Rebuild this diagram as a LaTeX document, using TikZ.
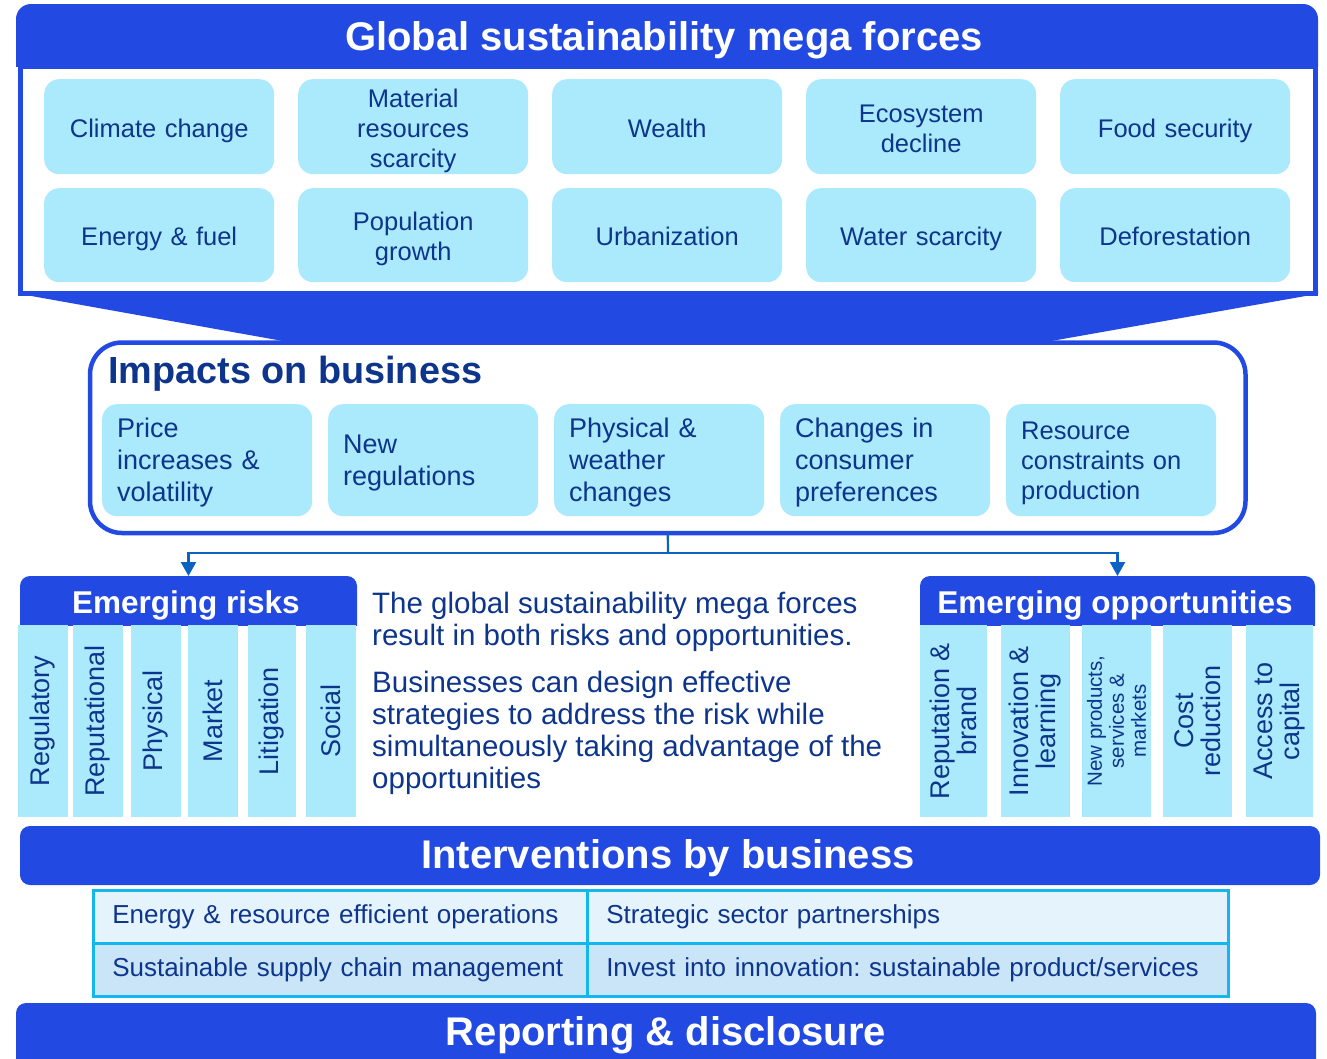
\documentclass[tikz,border=0pt]{standalone}
\usepackage{fontspec}
\setmainfont{Liberation Sans}
\usetikzlibrary{arrows.meta}
\frenchspacing

\definecolor{mainblue}{HTML}{224AE2}
\definecolor{cellcyan}{HTML}{ABE9FC}
\definecolor{navy}{HTML}{0D358C}
\definecolor{linkblue}{HTML}{0A63C2}
\definecolor{gridcyan}{HTML}{14B6EE}
\definecolor{rowlight}{HTML}{E5F3FD}
\definecolor{rowmid}{HTML}{CAE5F8}

\newcommand\fsz[2]{\fontsize{#1}{#2}\selectfont}

\begin{document}
\begin{tikzpicture}[x=1pt,y=-1pt,
  force/.style={fill=cellcyan, rounded corners=15pt, text=navy, align=center,
    text width=220pt, inner xsep=5pt, inner ysep=0pt, anchor=north west,
    font=\fsz{25.5}{30},
    execute at begin node={\rule{0pt}{27pt}},
    execute at end node={\rule[-6pt]{0pt}{6pt}}},
  impact/.style={fill=cellcyan, rounded corners=15pt, text=navy, align=left,
    text width=180pt, inner xsep=15pt, inner ysep=0pt, minimum height=112pt,
    anchor=north west, font=\fsz{27}{32},
    execute at begin node={\rule{0pt}{25pt}},
    execute at end node={\rule[-7pt]{0pt}{7pt}}},
  column/.style={fill=cellcyan, text=navy, rotate=90, inner sep=0pt,
    minimum width=192pt, align=center, font=\fsz{27}{27}},
  bartitle/.style={text=white, font=\bfseries\fsz{40}{44}, inner sep=0pt, anchor=base},
  subtitle/.style={text=white, font=\bfseries\fsz{31.5}{34}, inner sep=0pt, anchor=base},
  hdrbox/.style={inner sep=0pt, outer sep=0pt, anchor=north west},
  note/.style={text=navy, align=left, inner sep=0pt, anchor=base west,
    font=\fsz{29.5}{32}},
  tcell/.style={draw=gridcyan, line width=2.5pt, text=navy, align=left,
    inner xsep=19pt, inner ysep=0pt, minimum height=53pt, anchor=north west,
    font=\fsz{26}{30},
    execute at begin node={\rule[-6pt]{0pt}{25pt}}},
  link/.style={draw=linkblue, line width=2.2pt},
  tip/.style={-{Triangle[width=15pt,length=14pt]}}
]
\useasboundingbox (0,0) rectangle (1327,1058);

% ---------- mega forces panel ----------
\begin{scope}
  \clip (0,0) rectangle (1327,66);
  \fill[mainblue, rounded corners=15pt] (16,4) rectangle (1318,110);
\end{scope}
\draw[mainblue, line width=5pt, fill=white] (20.5,66) rectangle (1315.5,293);
\node[bartitle] (megatitle) at (664,50) {Global sustainability mega forces};

\node[force, minimum height=95pt] (f1)  at (44,79)   {Climate change};
\node[force, minimum height=95pt] (f2)  at (298,79)  {Material\\resources\\scarcity};
\node[force, minimum height=95pt] (f3)  at (552,79)  {Wealth};
\node[force, minimum height=95pt] (f4)  at (806,79)  {Ecosystem\\decline};
\node[force, minimum height=95pt] (f5)  at (1060,79) {Food security};
\node[force, minimum height=94pt] (f6)  at (44,188)  {Energy \& fuel};
\node[force, minimum height=94pt] (f7)  at (298,188) {Population\\growth};
\node[force, minimum height=94pt] (f8)  at (552,188) {Urbanization};
\node[force, minimum height=94pt] (f9)  at (806,188) {Water scarcity};
\node[force, minimum height=94pt] (f10) at (1060,188) {Deforestation};

% funnel into the impacts panel
\fill[mainblue] (18,291) -- (1318,291) -- (1318,293.8) -- (1040,343)
  -- (294,343) -- (18,293.6) -- cycle;

% ---------- impacts on business ----------
\node[draw=mainblue, line width=4.5pt, fill=white, rounded corners=32pt,
  minimum width=1155.5pt, minimum height=190.5pt, inner sep=0pt, outer sep=0pt,
  anchor=north west] (impacts) at (90,342.5) {};
\node[text=navy, font=\bfseries\fsz{37.8}{40}, inner sep=0pt, anchor=base west]
  (imptitle) at (108,383) {Impacts on business};

\node[impact] (i1) at (102,404)  {Price\\increases \&\\volatility};
\node[impact] (i2) at (328,404)  {New\\regulations};
\node[impact] (i3) at (554,404)  {Physical \&\\weather\\changes};
\node[impact] (i4) at (780,404)  {Changes in\\consumer\\preferences};
\node[impact, font=\fsz{25.5}{30}] (i5) at (1006,404) {Resource\\constraints on\\production};

% ---------- emerging risks / opportunities headers ----------
\begin{scope}
  \clip (0,570) rectangle (1327,625);
  \fill[mainblue, rounded corners=10pt] (20,576) rectangle (357,640);
  \fill[mainblue, rounded corners=10pt] (920,576) rectangle (1315,640);
\end{scope}
\node[hdrbox, minimum width=337pt, minimum height=49pt] (riskhdr) at (20,576) {};
\node[hdrbox, minimum width=395pt, minimum height=49pt] (opphdr) at (920,576) {};
\node[subtitle] (risktitle) at (186,613) {Emerging risks};
\node[subtitle] (opptitle) at (1115,613) {Emerging opportunities};

\node[column, minimum height=50pt] (r1) at (43,721)  {Regulatory};
\node[column, minimum height=50pt] (r2) at (98,721)  {Reputational};
\node[column, minimum height=50pt] (r3) at (156,721) {Physical};
\node[column, minimum height=50pt] (r4) at (213,721) {Market};
\node[column, minimum height=48pt] (r5) at (272,721) {Litigation};
\node[column, minimum height=50pt] (r6) at (331,721) {Social};

\node[column, minimum height=67pt] (o1) at (953.5,721)  {Reputation \&\\brand};
\node[column, minimum height=69pt] (o2) at (1035.5,721) {Innovation \&\\learning};
\node[column, minimum height=69pt, font=\fsz{20.5}{22}] (o3) at (1116.5,721)
  {New products,\\services \&\\markets};
\node[column, minimum height=69pt] (o4) at (1197.5,721) {Cost\\reduction};
\node[column, minimum height=67pt] (o5) at (1279.5,721) {Access to\\capital};

% ---------- connectors ----------
\coordinate (split) at (668,553);
\draw[link] (impacts.south) -- (split);
\draw[link, tip] (split) -| (riskhdr.north);
\draw[link, tip] (split) -| (opphdr.north);

% ---------- explanatory text (base = last line) ----------
\node[note] (note1) at (372,645)
  {The global sustainability mega forces\\result in both risks and opportunities.};
\node[note] (note2) at (372,788)
  {Businesses can design effective\\strategies to address the risk while\\simultaneously taking advantage of the\\opportunities};

% ---------- interventions ----------
\node[fill=mainblue, rounded corners=10pt, minimum width=1300pt,
  minimum height=59pt, hdrbox] (intbar) at (20,826) {};
\node[bartitle] (inttitle) at (668,868) {Interventions by business};

\node[tcell, fill=rowlight, minimum width=494pt, text width=456pt] (t11) at (92,889)
  {\mbox{Energy \& resource efficient operations}};
\node[tcell, fill=rowlight, minimum width=641pt, text width=603pt] (t12) at (586,889)
  {\mbox{Strategic sector partnerships}};
\node[tcell, fill=rowmid, minimum width=494pt, text width=456pt] (t21) at (92,942)
  {\mbox{Sustainable supply chain management}};
\node[tcell, fill=rowmid, minimum width=641pt, text width=603pt] (t22) at (586,942)
  {\mbox{Invest into innovation: sustainable product/services}};

% ---------- reporting ----------
\node[fill=mainblue, rounded corners=10pt, minimum width=1300pt,
  minimum height=90pt, hdrbox] (repbar) at (16,1003) {};
\node[bartitle] (reptitle) at (666,1045) {Reporting \& disclosure};
\end{tikzpicture}
\end{document}
